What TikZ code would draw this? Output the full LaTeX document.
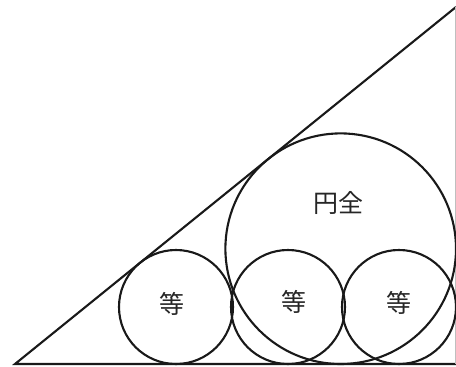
\documentclass[tikz,border=0pt]{standalone}
\usepackage{fontspec}
\newfontfamily\cjk{Noto Sans CJK JP}
\begin{document}
\begin{tikzpicture}[x=1pt,y=-1pt,
  edge/.style={line width=2.1pt,black!90},
  circ/.style={circle,draw=black!90,line width=2.1pt,inner sep=0pt},
  lbl/.style={font=\cjk\fontsize{25}{25}\selectfont,inner sep=0pt,text=black!85}]
\useasboundingbox (0,0) rectangle (456,367);
\clip (0,0) rectangle (456,367);
\coordinate (A) at (15,364);
\coordinate (B) at (456,364);
\coordinate (C) at (456,7);
\draw[edge] (C) -- (A) -- (B);
\draw[line width=0.6pt,black!25] (455.5,7) -- (455.5,364);
\node[circ,minimum size=230.6pt] (big) at (340.7,248.7) {};
\node[circ,minimum size=114pt] (s1) at (176,307) {};
\node[circ,minimum size=114pt] (s2) at (288,307) {};
\node[circ,minimum size=114pt] (s3) at (399,307) {};
\node[lbl] (t0) at (338.5,203) {円全};
\node[lbl] (t1) at (171.5,303.5) {等};
\node[lbl] (t2) at (294,301.5) {等};
\node[lbl] (t3) at (398.5,303) {等};
\end{tikzpicture}
\end{document}
